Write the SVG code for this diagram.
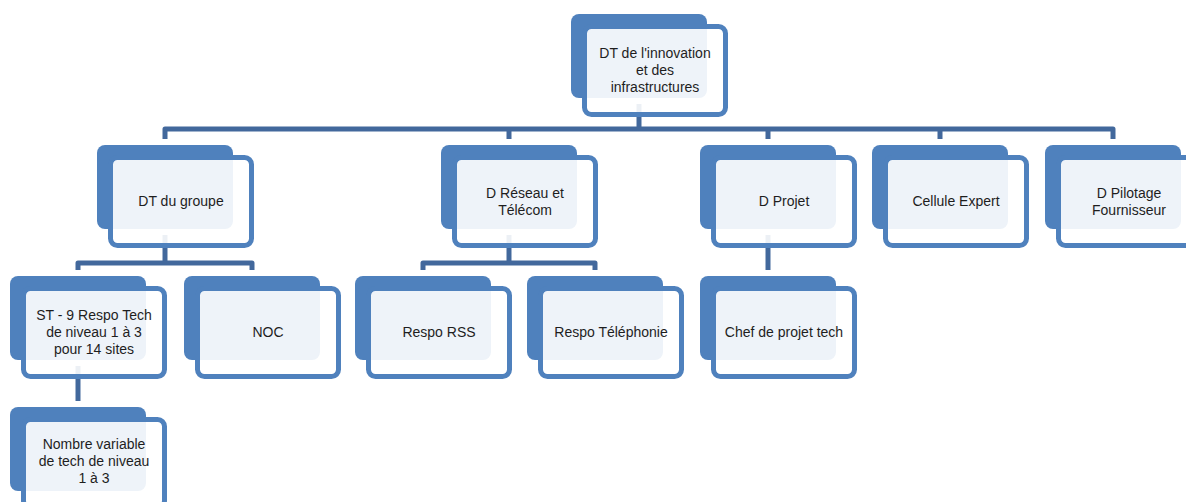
<svg xmlns="http://www.w3.org/2000/svg" width="1186" height="502" viewBox="0 0 1186 502">
<style>
.back{fill:#4F81BD;}
.front{fill:#FFFFFF;fill-opacity:0.9;stroke:#4F81BD;stroke-width:5;}
.lbl{font-family:"Liberation Sans",Arial,sans-serif;font-size:14px;fill:#1E1E1E;text-anchor:middle;}
.conn{fill:none;stroke:#42689C;stroke-width:5;stroke-linejoin:round;}
</style>
<defs>
<g id="shape">
<rect class="back" x="0" y="0" width="136" height="84" rx="8"/>
<rect class="front" x="13.5" y="12.5" width="141" height="88" rx="7"/>
</g>
</defs>
<rect width="1186" height="502" fill="#FFFFFF"/>
<g id="connectors">
<path class="conn" d="M639 104 V129"/>
<path class="conn" d="M165 139 V129 H1113 V139"/>
<path class="conn" d="M509 129 V139 M768 129 V139 M940 129 V139"/>
<path class="conn" d="M165 235 V263"/>
<path class="conn" d="M78 270 V263 H252 V270"/>
<path class="conn" d="M509 235 V263"/>
<path class="conn" d="M423 270 V263 H595 V270"/>
<path class="conn" d="M768 235 V270"/>
<path class="conn" d="M78 366 V401"/>
</g>
<g id="node-dt-innovation" transform="translate(571,14)">
<use href="#shape"/>
<text class="lbl"><tspan x="84" y="44">DT de l'innovation</tspan><tspan x="84" y="61">et des</tspan><tspan x="84" y="78">infrastructures</tspan></text>
</g>
<g id="node-dt-groupe" transform="translate(97,145)">
<use href="#shape"/>
<text class="lbl" x="84" y="61">DT du groupe</text>
</g>
<g id="node-d-reseau" transform="translate(441,145)">
<use href="#shape"/>
<text class="lbl"><tspan x="84" y="52.5">D Réseau et</tspan><tspan x="84" y="69.5">Télécom</tspan></text>
</g>
<g id="node-d-projet" transform="translate(700,145)">
<use href="#shape"/>
<text class="lbl" x="84" y="61">D Projet</text>
</g>
<g id="node-cellule-expert" transform="translate(872,145)">
<use href="#shape"/>
<text class="lbl" x="84" y="61">Cellule Expert</text>
</g>
<g id="node-d-pilotage" transform="translate(1045,145)">
<use href="#shape"/>
<text class="lbl"><tspan x="84" y="52.5">D Pilotage</tspan><tspan x="84" y="69.5">Fournisseur</tspan></text>
</g>
<g id="node-st" transform="translate(10,276)">
<use href="#shape"/>
<text class="lbl"><tspan x="84" y="44">ST - 9 Respo Tech</tspan><tspan x="84" y="61">de niveau 1 à 3</tspan><tspan x="84" y="78">pour 14 sites</tspan></text>
</g>
<g id="node-noc" transform="translate(184,276)">
<use href="#shape"/>
<text class="lbl" x="84" y="61">NOC</text>
</g>
<g id="node-respo-rss" transform="translate(355,276)">
<use href="#shape"/>
<text class="lbl" x="84" y="61">Respo RSS</text>
</g>
<g id="node-respo-telephonie" transform="translate(527,276)">
<use href="#shape"/>
<text class="lbl" x="84" y="61">Respo Téléphonie</text>
</g>
<g id="node-chef-projet" transform="translate(700,276)">
<use href="#shape"/>
<text class="lbl" x="84" y="61">Chef de projet tech</text>
</g>
<g id="node-nombre-variable" transform="translate(10,407)">
<use href="#shape"/>
<text class="lbl"><tspan x="84" y="42">Nombre variable</tspan><tspan x="84" y="59">de tech de niveau</tspan><tspan x="84" y="76">1 à 3</tspan></text>
</g>
</svg>
